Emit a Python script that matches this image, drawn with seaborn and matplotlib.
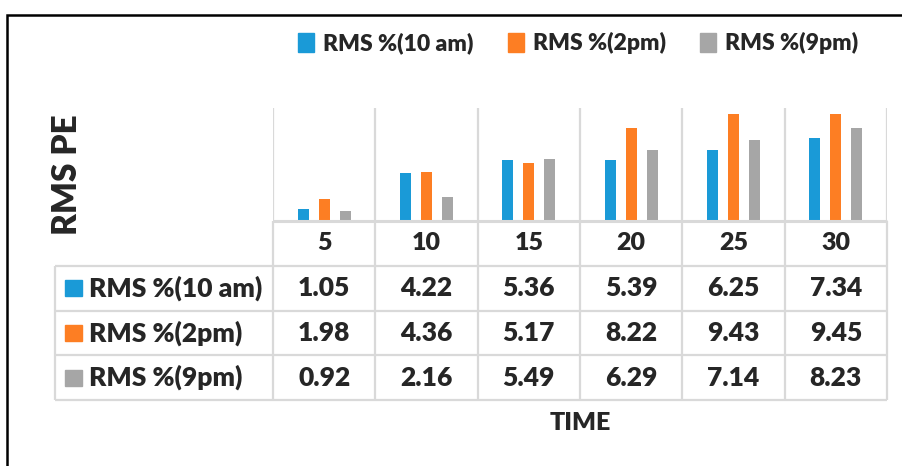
import numpy as np
import pandas as pd
import seaborn as sns
import matplotlib.pyplot as plt
from matplotlib.patches import Patch, Rectangle

# data
times = ["5", "10", "15", "20", "25", "30"]
series_names = ["RMS %(10 am)", "RMS %(2pm)", "RMS %(9pm)"]
rms_10am = [1.05, 4.22, 5.36, 5.39, 6.25, 7.34]
rms_2pm = [1.98, 4.36, 5.17, 8.22, 9.43, 9.45]
rms_9pm = [0.92, 2.16, 5.49, 6.29, 7.14, 8.23]
colors = ["#1a9ad7", "#fd7e23", "#a6a6a6"]

sns.set_theme(style="white")
plt.rcParams["font.family"] = ["Lato", "DejaVu Sans"]
WT = "heavy"

df = pd.DataFrame({
    "time": times * 3,
    "value": rms_10am + rms_2pm + rms_9pm,
    "series": [s for s in series_names for _ in times],
})

W, H = 903, 466
fig = plt.figure(figsize=(W / 100, H / 100), dpi=100)


def box(x0, y0, x1, y1):
    # pixel box (top-left origin) -> figure fraction rect
    return [x0 / W, 1 - y1 / H, (x1 - x0) / W, (y1 - y0) / H]


grid_c = "#d9d9d9"
lw = 1.6

# bar area
ax = fig.add_axes(box(273, 108, 887, 221))
sns.barplot(data=df, x="time", y="value", hue="series", hue_order=series_names,
            palette=colors, saturation=1, width=0.615, gap=0.47, linewidth=0,
            legend=False, ax=ax)
ax.set_xlim(-0.5, 5.5)
ax.set_ylim(0, 10)
ax.vlines(np.arange(-0.5, 6), 0, 10, color=grid_c, lw=lw, zorder=0)
ax.set_xticks([])
ax.set_yticks([])
ax.set_xlabel("")
ax.set_ylabel("")
for s in ax.spines.values():
    s.set_visible(False)

# data table under the bars
left = -0.5 - 218 / 102.33
tab = fig.add_axes(box(55, 221, 887, 400))
tab.set_xlim(left, 5.5)
tab.set_ylim(4, 0)
tab.axis("off")
tab.vlines(np.arange(-0.5, 6), 0, 4, color=grid_c, lw=lw, clip_on=False)
tab.vlines(left, 1, 4, color=grid_c, lw=lw, clip_on=False)
tab.hlines([1, 2, 3, 4], left, 5.5, color=grid_c, lw=lw, clip_on=False)
tab.hlines(0, -0.5, 5.5, color=grid_c, lw=lw + 0.6, clip_on=False)

for i, t in enumerate(times):
    tab.text(i, 0.5, t, ha="center", va="center", fontsize=18, fontweight=WT)

rows = [rms_10am, rms_2pm, rms_9pm]
for r, (name, vals, c) in enumerate(zip(series_names, rows, colors)):
    y = r + 1.5
    tab.add_patch(Rectangle((left + 0.1, y - 0.18), 0.165, 0.36, color=c,
                            clip_on=False))
    tab.text(left + 0.33, y, name, ha="left", va="center", fontsize=19,
             fontweight=WT)
    for i, v in enumerate(vals):
        tab.text(i, y, f"{v:.2f}", ha="center", va="center", fontsize=19,
                 fontweight=WT)

# titles
fig.text(580 / W, 1 - 423 / H, "TIME", ha="center", va="center",
         fontsize=18, fontweight=WT)
fig.text(67 / W, 1 - 175 / H, "RMS PE", ha="center", va="center",
         rotation=90, fontsize=24, fontweight=WT)

# legend on top
handles = [Patch(color=c, label=n) for c, n in zip(colors, series_names)]
fig.legend(handles=handles, loc="center", bbox_to_anchor=(578 / W, 1 - 43 / H),
           ncol=3, frameon=False, handlelength=0.7,
           handleheight=0.9, handletextpad=0.4, columnspacing=1.5,
           prop={"weight": WT, "size": 16.5})

# chart border (cut off at right and bottom)
fig.patches.append(Rectangle((7 / W, -0.1), 1.1, 1 - 15 / H + 0.1,
                             transform=fig.transFigure, fill=False,
                             edgecolor="black", lw=1.8))

fig.savefig("out.png", dpi=100)
